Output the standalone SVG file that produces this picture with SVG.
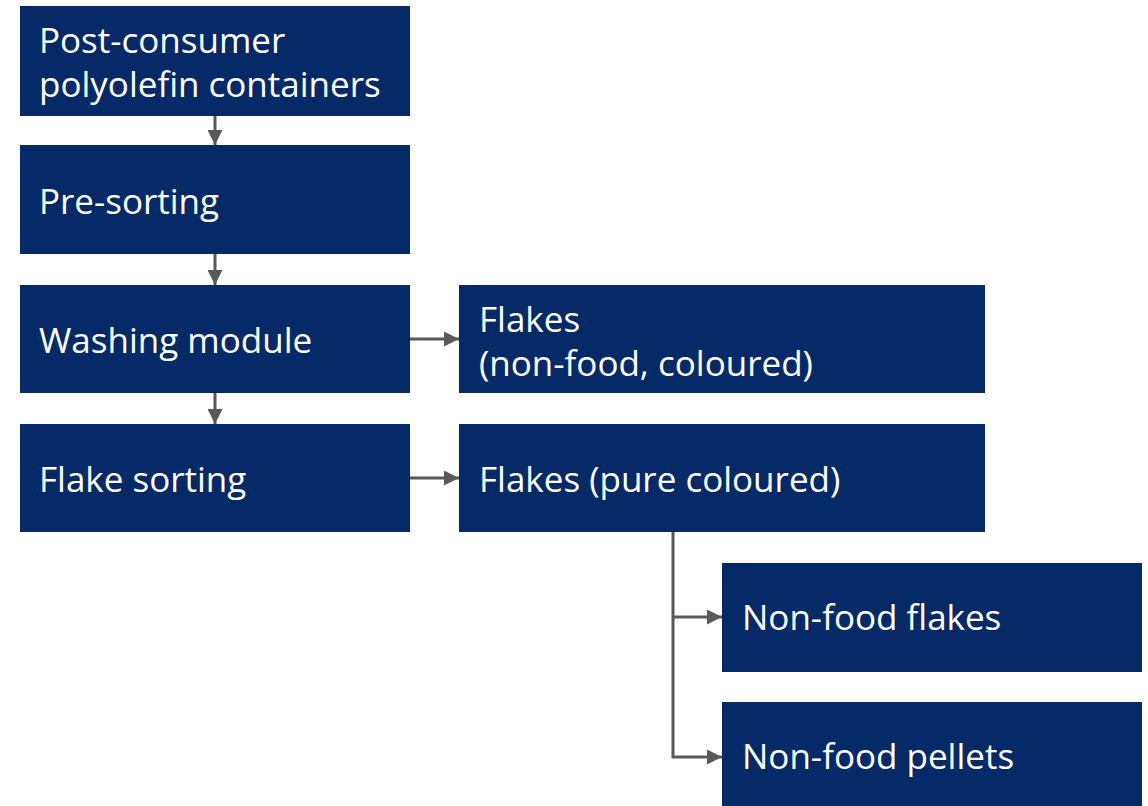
<svg xmlns="http://www.w3.org/2000/svg" width="1148" height="806" viewBox="0 0 1148 806">
<defs>
<style>
.box{fill:#062A68;}
.t{font-family:"Open Sans","Noto Sans","Liberation Sans",sans-serif;font-size:35px;fill:#FFFFFF;}
.c{stroke:#595959;stroke-width:3;fill:none;}
</style>
<marker id="ah" markerWidth="5" markerHeight="5" refX="5" refY="2.5" orient="auto" markerUnits="strokeWidth">
<path d="M0,0 L5,2.5 L0,5 Z" fill="#595959"/>
</marker>
</defs>
<rect width="1148" height="806" fill="#FFFFFF"/>
<g id="connectors">
<line class="c" x1="215" y1="116" x2="215" y2="145" marker-end="url(#ah)"/>
<line class="c" x1="215" y1="254" x2="215" y2="285" marker-end="url(#ah)"/>
<line class="c" x1="215" y1="393" x2="215" y2="424" marker-end="url(#ah)"/>
<line class="c" x1="410" y1="339" x2="459" y2="339" marker-end="url(#ah)"/>
<line class="c" x1="410" y1="478" x2="459" y2="478" marker-end="url(#ah)"/>
<polyline class="c" points="673,532 673,757 722,757" marker-end="url(#ah)"/>
<line class="c" x1="673" y1="617" x2="722" y2="617" marker-end="url(#ah)"/>
</g>
<g id="n1"><rect class="box" x="20" y="6" width="390" height="110"/><text class="t" x="39" y="53">Post-consumer</text><text class="t" x="39" y="97">polyolefin containers</text></g>
<g id="n2"><rect class="box" x="20" y="145" width="390" height="109"/><text class="t" x="39" y="214">Pre-sorting</text></g>
<g id="n3"><rect class="box" x="20" y="285" width="390" height="108"/><text class="t" x="39" y="353">Washing module</text></g>
<g id="n4"><rect class="box" x="20" y="424" width="390" height="108"/><text class="t" x="39" y="492">Flake sorting</text></g>
<g id="n5"><rect class="box" x="459" y="285" width="526" height="108"/><text class="t" x="479" y="332">Flakes</text><text class="t" x="479" y="376">(non-food, coloured)</text></g>
<g id="n6"><rect class="box" x="459" y="424" width="526" height="108"/><text class="t" x="479" y="492">Flakes (pure coloured)</text></g>
<g id="n7"><rect class="box" x="722" y="563" width="420" height="109"/><text class="t" x="742" y="630">Non-food flakes</text></g>
<g id="n8"><rect class="box" x="722" y="702" width="420" height="104"/><text class="t" x="742" y="769">Non-food pellets</text></g>
</svg>
